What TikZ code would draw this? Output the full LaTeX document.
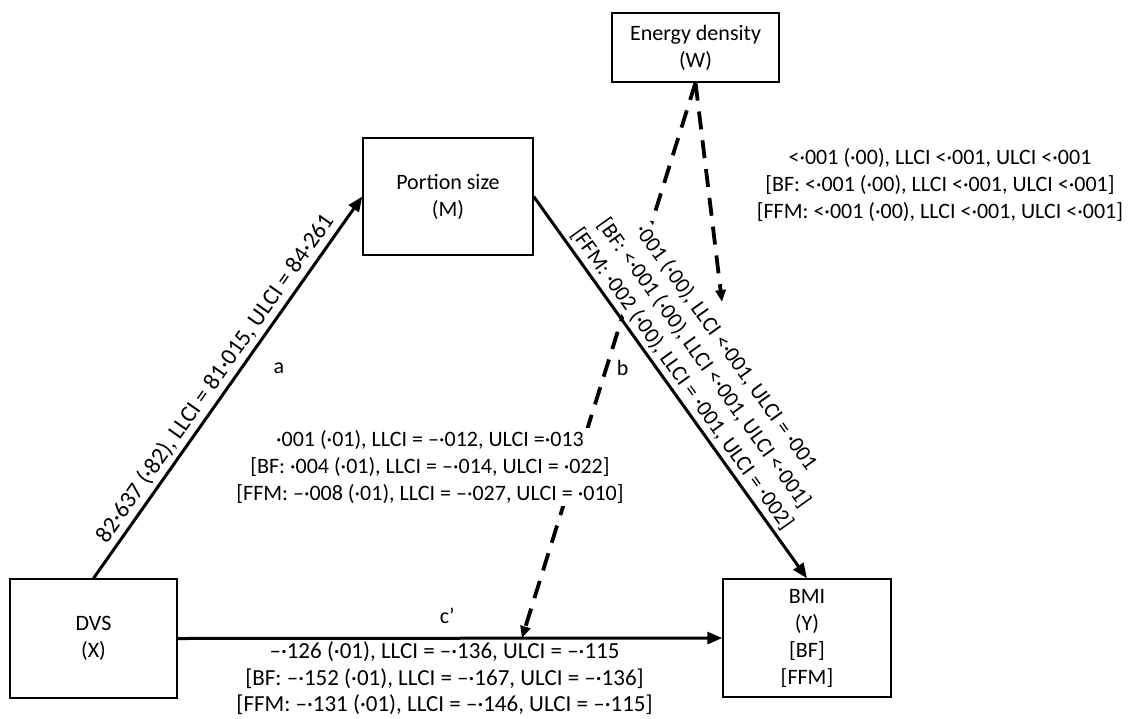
\documentclass[tikz,border=0pt]{standalone}
\usepackage{fontspec}
\setmainfont{Carlito}
\usetikzlibrary{arrows.meta,positioning,calc}

\begin{document}
\begin{tikzpicture}[x=0.5pt, y=-0.5pt, font=\fontsize{11}{13.5}\selectfont,
    box/.style={rectangle, draw, line width=0.7pt, align=center},
    arr/.style={-{Triangle[length=7.5pt,width=6pt]}, line width=1.5pt},
    modarr/.style={-{Triangle[length=6pt,width=5pt]}, line width=1.9pt, dash pattern=on 9pt off 5.5pt},
    lbl/.style={align=center, inner sep=1pt}]
  \useasboundingbox (0,0) rectangle (1130,718);

  % Variables
  \node[box, minimum width=83.5pt, minimum height=59.5pt] (dvs) at (93.5,638.5) {DVS\\(X)};
  \node[box, minimum width=85pt, minimum height=58.5pt] (port) at (448,196.5) {Portion size\\(M)};
  \node[box, minimum width=83.5pt, minimum height=34.5pt] (wmod) at (695.5,47.5) {Energy density\\(W)};
  \node[box, minimum width=84pt, minimum height=59pt] (bmi) at (807,638) {BMI\\(Y)\\{}[BF]\\{}[FFM]};

  % Moderation by W
  \coordinate (cmod) at ($(dvs.east)!0.632!(bmi.west)$);
  \coordinate (bmod) at (722,302);
  \draw[modarr] (wmod.south) -- (cmod);
  \draw[modarr] (wmod.south) -- (bmod);

  % Paths
  \draw[arr] (dvs.north) -- node[lbl, sloped, above, inner sep=2pt, font=\fontsize{11.8}{14}\selectfont] {82·637 (·82), LLCI = 81·015, ULCI = 84·261}
    node[pos=0.55, right=12pt] {a} (port.west);
  \draw[arr] (port.east) -- node[lbl, sloped, above, fill=white, outer sep=1.5pt] {·001 (·00), LLCI <·001, ULCI = ·001\\{}[BF: <·001 (·00), LLCI <·001, ULCI <·001]\\{}[FFM: ·002 (·00), LLCI = ·001, ULCI = ·002]}
    node[pos=0.45, left=10pt] {b} (bmi.north);
  \draw[arr] (dvs.east) -- node[pos=0.495, above=3pt] {c’}
    node[lbl, pos=0.49, below=0pt, font=\fontsize{11.5}{13.3}\selectfont] {–·126 (·01), LLCI = –·136, ULCI = –·115\\{}[BF: –·152 (·01), LLCI = –·167, ULCI = –·136]\\{}[FFM: –·131 (·01), LLCI = –·146, ULCI = –·115]} (bmi.west);

  % Effect labels
  \node[lbl, fill=white] (indir) at (430,467) {·001 (·01), LLCI = –·012, ULCI =·013\\{}[BF: ·004 (·01), LLCI = –·014, ULCI = ·022]\\{}[FFM: –·008 (·01), LLCI = –·027, ULCI = ·010]};
  \node[lbl] (wlbl) at (940,185) {<·001 (·00), LLCI <·001, ULCI <·001\\{}[BF: <·001 (·00), LLCI <·001, ULCI <·001]\\{}[FFM: <·001 (·00), LLCI <·001, ULCI <·001]};
\end{tikzpicture}
\end{document}
